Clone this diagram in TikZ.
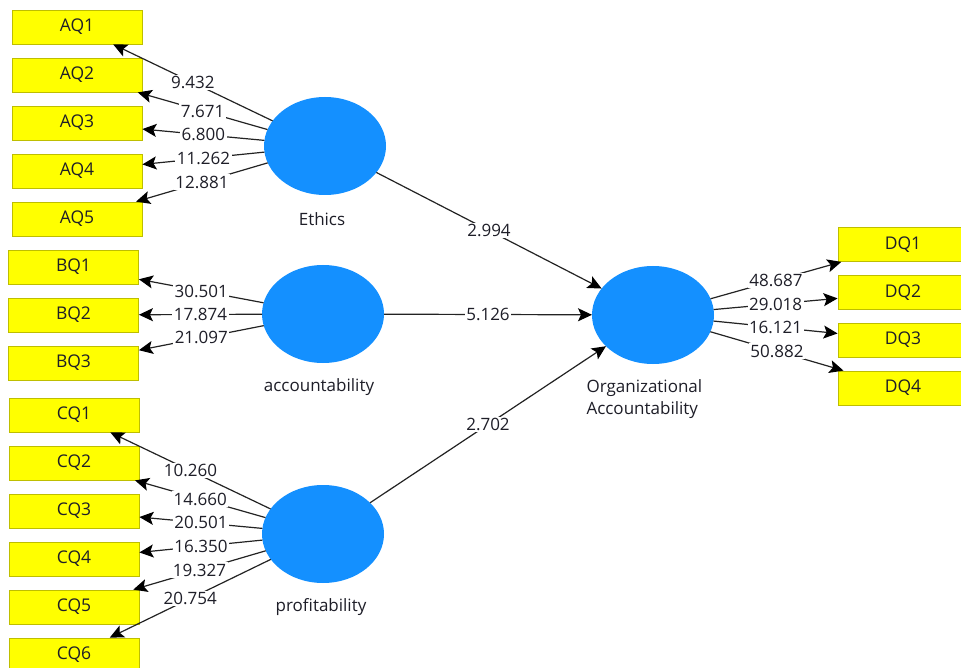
\documentclass[tikz,border=0pt]{standalone}
\usepackage{fontspec}
\setmainfont{Open Sans}
\usetikzlibrary{shapes.geometric,arrows.meta}
\definecolor{lvblue}{RGB}{20,144,255}
\definecolor{boxyel}{RGB}{255,255,0}
\definecolor{boxedge}{RGB}{190,190,0}
\definecolor{txt}{RGB}{30,30,40}
\definecolor{linec}{RGB}{35,35,35}
\tikzset{
  ind/.style={draw=boxedge, fill=boxyel, line width=0.8pt, minimum width=130pt, minimum height=34pt, inner sep=0pt, font=\fontsize{17.5}{20}\selectfont, text=txt},
  lv/.style={ellipse, fill=lvblue, minimum width=122pt, minimum height=98pt, inner sep=0pt, outer sep=0pt},
  lvlab/.style={font=\fontsize{17}{22}\selectfont, text=txt},
  conn/.style={draw=linec, line width=1.2pt, -{Stealth[length=14pt,width=13pt,inset=3pt,color=black]}},
  val/.style={fill=white, inner sep=1.5pt, font=\fontsize{17}{20}\selectfont, text=txt}
}
\begin{document}
\begin{tikzpicture}[x=1pt,y=-1pt]
\clip (0,0) rectangle (961,668);
\fill[white] (0,0) rectangle (961,668);
% latent variables
\node[lv] (eth) at (325,146) {};
\node[lv] (acc) at (323,314) {};
\node[lv] (pro) at (323,534) {};
\node[lv] (org) at (653,315) {};
\node[lvlab] (ethl) at (322,219) {Ethics};
\node[lvlab] (accl) at (319,387) {accountability};
\node[lvlab] (prol) at (321,607) {profitability};
\node[lvlab, align=left, anchor=west] (orgl) at (583,399) {Organizational\\Accountability};
% indicators
\node[ind] (aq1) at (77,27) {AQ1};
\node[ind] (aq2) at (77,75) {AQ2};
\node[ind] (aq3) at (77,123) {AQ3};
\node[ind] (aq4) at (77,171) {AQ4};
\node[ind] (aq5) at (77,219) {AQ5};
\node[ind] (bq1) at (73.5,267) {BQ1};
\node[ind] (bq2) at (73.5,315) {BQ2};
\node[ind] (bq3) at (73.5,363) {BQ3};
\node[ind] (cq1) at (74,415) {CQ1};
\node[ind] (cq2) at (74,463) {CQ2};
\node[ind] (cq3) at (74,511) {CQ3};
\node[ind] (cq4) at (74,559) {CQ4};
\node[ind] (cq5) at (74,607) {CQ5};
\node[ind] (cq6) at (74,655) {CQ6};
\node[ind] (dq1) at (903,244.5) {DQ1};
\node[ind] (dq2) at (903,292.5) {DQ2};
\node[ind] (dq3) at (903,340) {DQ3};
\node[ind] (dq4) at (903,388) {DQ4};
% outer loadings
\draw[conn] (eth) -- node[val] {9.432} (aq1);
\draw[conn] (eth) -- node[val] {7.671} (aq2);
\draw[conn] (eth) -- node[val] {6.800} (aq3);
\draw[conn] (eth) -- node[val] {11.262} (aq4);
\draw[conn] (eth) -- node[val] {12.881} (aq5);
\draw[conn] (acc) -- node[val] {30.501} (bq1);
\draw[conn] (acc) -- node[val] {17.874} (bq2);
\draw[conn] (acc) -- node[val] {21.097} (bq3);
\draw[conn] (pro) -- node[val] {10.260} (cq1);
\draw[conn] (pro) -- node[val] {14.660} (cq2);
\draw[conn] (pro) -- node[val] {20.501} (cq3);
\draw[conn] (pro) -- node[val] {16.350} (cq4);
\draw[conn] (pro) -- node[val] {19.327} (cq5);
\draw[conn] (pro) -- node[val] {20.754} (cq6);
\draw[conn] (org) -- node[val] {48.687} (dq1);
\draw[conn] (org) -- node[val] {29.018} (dq2);
\draw[conn] (org) -- node[val] {16.121} (dq3);
\draw[conn] (org) -- node[val] {50.882} (dq4);
% structural paths
\draw[conn] (eth) -- node[val] {2.994} (org);
\draw[conn] (acc) -- node[val] {5.126} (org);
\draw[conn] (pro) -- node[val] {2.702} (org);
\end{tikzpicture}
\end{document}
